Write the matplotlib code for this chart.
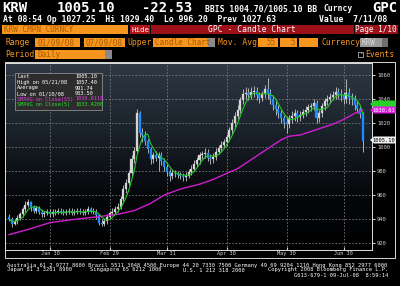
#!/usr/bin/env python3

import numpy as np
import pandas as pd
import matplotlib
matplotlib.use('Agg')
import matplotlib.pyplot as plt
from matplotlib.colors import LinearSegmentedColormap
from matplotlib.patches import Rectangle, Polygon

# daily KRW candles, 01/09/08 - 07/09/08
dates = pd.bdate_range('2008-01-09', '2008-07-09')
first_open = 942
close = [940, 936, 938, 941, 944, 948, 952, 954, 950, 947,
         949, 946, 944, 945, 946, 944, 946, 945, 947, 946,
         945, 946, 947, 945, 946, 947, 946, 945, 946, 948,
         947, 946, 943, 937, 936, 938, 942, 945, 946, 948,
         950, 957, 965, 970, 978, 990, 997, 1028, 1012, 1010,
         1005, 998, 990, 993, 991, 993, 988, 983, 979, 976,
         978, 978, 977, 976, 975, 976, 979, 982, 986, 989,
         993, 994, 995, 991, 990, 992, 996, 999, 1002, 1004,
         1008, 1014, 1020, 1026, 1031, 1039, 1044, 1045, 1043, 1046,
         1047, 1043, 1041, 1044, 1048, 1045, 1040, 1035, 1032, 1028,
         1024, 1021, 1019, 1024, 1026, 1028, 1025, 1027, 1029, 1031,
         1033, 1034, 1037, 1024, 1028, 1034, 1038, 1040, 1042, 1043,
         1046, 1044, 1043, 1040, 1045, 1041, 1040, 1035, 1032, 1027.63,
         1005.10]
high = [944, 942, 940, 943, 946, 950, 955, 957, 955, 952,
        951, 951, 948, 947, 948, 948, 948, 948, 949, 949,
        948, 948, 949, 949, 948, 949, 949, 948, 948, 951,
        950, 949, 948, 944, 940, 941, 944, 947, 949, 951,
        953, 959, 968, 973, 981, 993, 1000, 1032, 1030, 1016,
        1013, 1007, 1000, 996, 997, 996, 996, 991, 986, 982,
        981, 981, 980, 979, 978, 979, 982, 985, 989, 992,
        996, 997, 999, 998, 994, 995, 999, 1002, 1005, 1007,
        1011, 1017, 1023, 1029, 1035, 1042, 1048, 1050, 1049, 1050,
        1051, 1050, 1046, 1047, 1052, 1057.4, 1048, 1043, 1038, 1035,
        1031, 1027, 1025, 1027, 1030, 1032, 1031, 1030, 1032, 1034,
        1036, 1037, 1040, 1039, 1031, 1037, 1041, 1043, 1045, 1047,
        1050, 1049, 1048, 1046, 1057, 1049, 1045, 1043, 1038, 1035,
        1029.40]
low = [938, 933.5, 935, 936, 939, 942, 946, 950, 947, 945,
       945, 944, 942, 942, 943, 942, 942, 943, 944, 944,
       943, 943, 944, 943, 943, 944, 944, 943, 943, 944,
       945, 944, 940, 935, 934, 934, 936, 940, 943, 944,
       946, 948, 955, 962, 968, 976, 987, 995, 1008, 1004,
       1002, 995, 986, 987, 988, 980, 985, 980, 976, 972,
       973, 975, 974, 973, 972, 972, 974, 977, 980, 983,
       986, 990, 991, 988, 986, 987, 989, 994, 996, 999,
       1001, 1005, 1011, 1017, 1023, 1028, 1036, 1040, 1039, 1040,
       1042, 1039, 1037, 1038, 1041, 1040, 1036, 1031, 1027, 1024,
       1020, 1016, 1012, 1016, 1020, 1022, 1021, 1022, 1024, 1026,
       1028, 1030, 1031, 1020, 1021, 1025, 1031, 1035, 1037, 1039,
       1040, 1040, 1038, 1036, 1037, 1036, 1035, 1031, 1028, 1024,
       996.20]

# 55 day moving average (day index, value)
ma55_idx = [0, 8, 15, 25, 33, 40, 46, 52, 57, 63, 70, 75, 79, 84, 88,
            92, 96, 100, 103, 107, 111, 115, 119, 123, 127, 130]
ma55_val = [927, 932, 937, 940, 942, 944, 947, 953, 960, 965, 969, 973,
            977, 982, 988, 994, 1000, 1006, 1009, 1010, 1013, 1016, 1019,
            1023, 1028, 1030.6]

month_idx = [15, 37, 58, 80, 102, 123]
month_labels = ['Jan 30', 'Feb 29', 'Mar 31', 'Apr 30', 'May 30', 'Jun 30']
y_ticks = [920, 940, 960, 980, 1000, 1020, 1040, 1060]

df = pd.DataFrame({'close': close, 'high': high, 'low': low}, index=dates)
df['open'] = df['close'].shift(1).fillna(first_open)
df['ma5'] = df['close'].rolling(5, min_periods=1).mean()
pos = np.arange(len(df))

ORANGE = '#f7961e'
BOXTXT = '#a85a00'
MONO = 'DejaVu Sans Mono'

fig = plt.figure(figsize=(4, 2.86), dpi=100, facecolor='black')

# ---- price panel
ax = fig.add_axes([5 / 400, 36 / 286, 367 / 400, 187 / 286], zorder=1)
ax.set_xlim(-1.5, 133.4)
ax.set_ylim(914.2, 1070)
grad = np.linspace(0, 1, 256).reshape(-1, 1)
cmap = LinearSegmentedColormap.from_list(
    'bb', [(0, '#000000'), (0.3, '#05070a'), (0.65, '#1b232b'), (1, '#2e3945')])
ax.imshow(grad, extent=[-1.5, 133.4, 914.2, 1070], origin='lower',
          aspect='auto', cmap=cmap, zorder=0)

for v in y_ticks:
    ax.axhline(v, color='#7a7a7a', lw=0.6, ls=(0, (2, 2)), zorder=1)
for m in month_idx:
    ax.axvline(m, color='#7a7a7a', lw=0.6, ls=(0, (2, 2)), zorder=1)

up = df['close'] >= df['open']
colors = np.where(up, '#d4d4d4', '#1e8cff')
body_lo = np.minimum(df['open'], df['close'])
body_h = np.maximum(np.abs(df['close'] - df['open']), 0.6)
ax.vlines(pos, df['low'], df['high'], color='#c8c8c8', lw=0.6, zorder=2)
ax.bar(pos, body_h, bottom=body_lo, width=0.75, color=colors,
       edgecolor=colors, lw=0.2, zorder=3)

ax.plot(ma55_idx, ma55_val, color='#d01ed0', lw=1.0, zorder=4)
ax.plot(pos, df['ma5'], color='#22c822', lw=0.8, zorder=4)

ax.yaxis.tick_right()
ax.set_yticks(y_ticks)
ax.set_yticklabels([str(v) for v in y_ticks])
ax.set_xticks(month_idx)
ax.set_xticklabels(month_labels)
ax.tick_params(axis='y', colors='#d0d0d0', labelsize=4, length=2.5, pad=1,
               labelfontfamily=MONO)
ax.tick_params(axis='x', colors='#d0d0d0', labelsize=3.8, length=2, pad=0.5,
               direction='in', labelfontfamily=MONO)
for s in ax.spines.values():
    s.set_color('#e0e0e0')
    s.set_linewidth(0.7)

# ---- screen furniture in pixel coordinates
ov = fig.add_axes([0, 0, 1, 1], zorder=3)
ov.set_xlim(0, 400)
ov.set_ylim(286, 0)
ov.axis('off')
ov.patch.set_alpha(0)


def box(x0, y0, x1, y1, fc, ec='none', lw=0.5):
    ov.add_patch(Rectangle((x0, y0), x1 - x0, y1 - y0, facecolor=fc,
                           edgecolor=ec, lw=lw))


def txt(x, y, s, size=5.5, color='white', ha='left', weight='normal'):
    ov.text(x, y, s, fontsize=size, color=color, ha=ha, va='center',
            family=MONO, weight=weight)


# header rows
txt(2, 8.5, 'KRW', 10, weight='bold')
txt(57, 8.5, '1005.10', 10, weight='bold')
txt(142, 8.5, '-22.53', 10, weight='bold')
txt(205, 8.5, 'BBIS 1004.70/1005.10 BB', 5.8, weight='bold')
txt(323, 8.5, 'Curncy', 5.8, weight='bold')
txt(397, 8.5, 'GPC', 10, weight='bold', ha='right')
txt(3, 19, 'At 08:54 Op 1027.25  Hi 1029.40  Lo 996.20  Prev 1027.63',
    5.9, weight='bold')
txt(387, 19, 'Value  7/11/08', 5.9, ha='right', weight='bold')

box(2, 25, 128, 34, ORANGE)
txt(4, 29.5, 'KRW CMPN CURNCY', 5.5, BOXTXT)
box(130, 25, 150, 34, '#b3141c')
txt(140, 29.5, 'Hide', 5.3, ha='center')
box(151, 25, 354, 34, '#9c1018')
txt(252, 29.5, 'GPC - Candle Chart', 5.8, ha='center')
box(355, 25, 398, 34, '#9c1018')
txt(376, 29.5, 'Page 1/10', 5.5, ha='center')

txt(5, 42.5, 'Range', 5.8, ORANGE)
box(35, 38, 80, 47, ORANGE)
txt(38, 42.5, '01/09/08', 5.5, BOXTXT)
txt(81.5, 42.5, '-', 5.8, ORANGE)
box(84, 38, 125, 47, ORANGE)
txt(86, 42.5, '07/09/08', 5.5, BOXTXT)
txt(127, 42.5, 'Upper', 5.8, ORANGE)
box(153, 38, 208, 47, ORANGE)
txt(155, 42.5, 'Candle Chart', 5.5, BOXTXT)
box(208, 38, 215, 47, '#8a8a8a')
txt(218, 42.5, 'Mov. Avgs', 5.8, ORANGE)
box(258, 38, 278, 47, ORANGE)
txt(276, 42.5, '55', 5.5, BOXTXT, ha='right')
box(280, 38, 297, 47, ORANGE)
txt(295, 42.5, '5', 5.5, BOXTXT, ha='right')
box(299, 38, 318, 47, ORANGE)
txt(322, 42.5, 'Currency', 5.8, ORANGE)
box(360, 38, 382, 47, '#9a9a9a')
txt(362, 42.5, 'KRW', 5.5, '#d8d8d8')
box(382, 38, 388, 47, '#6e6e6e')

txt(5, 54.5, 'Period', 5.8, ORANGE)
box(35, 50, 105, 59, ORANGE)
txt(37, 54.5, 'Daily', 5.5, BOXTXT)
box(105, 50, 112, 59, '#8a8a8a')
box(358, 51.5, 363, 56.5, 'black', ec='#cccccc', lw=0.5)
txt(360.5, 54, '-', 4, ha='center')
txt(365, 54.5, 'Events', 5.8, ORANGE)

# chart frame
box(5, 62, 395, 258, 'none', ec='#d8d8d8', lw=0.7)

# stats legend box
box(15, 73, 102, 110, '#2c2c2c', ec='#8c8c8c', lw=0.6)
stats = [('Last', '1005.10', 'white'),
         ('High on 05/21/08', '1057.40', 'white'),
         ('Average', '991.74', 'white'),
         ('Low on 01/10/08', '933.50', 'white'),
         ('SMAVG on Close(55)', '1030.6118', '#e040e0'),
         ('SMAVG on Close(5)', '1033.4200', '#30e030')]
for k, (lab, val, col) in enumerate(stats):
    yy = 77 + k * 5.5
    txt(17, yy, lab, 3.8, col)
    txt(75, yy, val, 3.8, col)

# right-axis value tags
def tag(yc, fc, s, tc):
    ov.add_patch(Polygon([(370, yc), (374, yc - 3.5), (396, yc - 3.5),
                          (396, yc + 3.5), (374, yc + 3.5)], closed=True,
                         facecolor=fc, edgecolor='none'))
    if s:
        txt(384, yc, s, 3.9, tc, ha='center')


tag(104, '#28d028', '', 'black')
tag(110, '#e020e0', '1030.61', 'white')
tag(140, '#f0f0f0', '1005.10', 'black')

# footer
txt(7, 265, 'Australia 61 2 9777 8600 Brazil 5511 3048 4500 Europe 44 20 '
    '7330 7500 Germany 49 69 9204 1210 Hong Kong 852 2977 6000', 3.9)
txt(7, 270, 'Japan 81 3 3201 8900', 3.9)
txt(90, 270, 'Singapore 65 6212 1000', 3.9)
txt(183, 270, 'U.S. 1 212 318 2000', 3.9)
txt(388, 270, 'Copyright 2008 Bloomberg Finance L.P.', 3.9, ha='right')
txt(388, 275.5, 'G613-679-1 09-Jul-08  8:59:14', 3.9, ha='right')

plt.savefig('out.png', dpi=100, facecolor='black')
